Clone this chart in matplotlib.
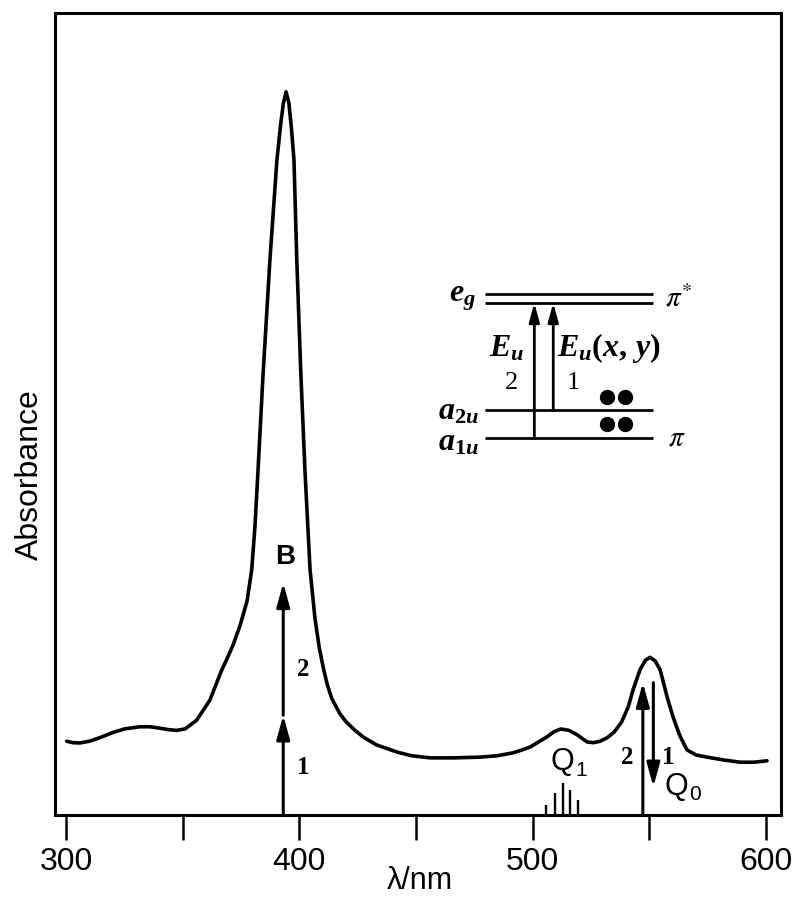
import matplotlib
matplotlib.use("Agg")
import matplotlib.pyplot as plt

plt.rcParams["mathtext.it"] = "Liberation Serif:italic:bold"
plt.rcParams["mathtext.rm"] = "Liberation Serif:bold"
plt.rcParams["mathtext.bf"] = "Liberation Serif:bold"

# ---- data ----
wavelength_nm = [300.3, 303, 306, 310, 314.6, 320, 325, 331.7, 336, 340.3, 344, 347.4, 351, 356,
                 361.7, 364, 366.7, 369, 371.6, 374.6, 377.6, 379.6, 381, 382.3, 384.4, 387.4, 390.4,
                 392.0, 393.1, 394.3, 395.5, 396.6, 397.7, 398.9, 400.7, 402.4, 404.6, 406.7, 408.5,
                 410.3, 412.0, 413.9, 417.4, 420, 423.5, 427.3, 433, 441.9, 448, 456, 466, 477.4, 485,
                 491.6, 495.5, 498.9, 502.5, 506.1, 509, 512.1, 515.5, 519, 523.3, 526, 528.9, 532,
                 535, 538, 541, 543, 546, 548.3, 550.3, 552.5, 554.6, 557.6, 560.1, 563, 566.1, 570,
                 574.7, 582, 588.9, 595, 600.4]
absorbance = [0.102, 0.100, 0.0996, 0.102, 0.107, 0.114, 0.119, 0.122, 0.122, 0.120, 0.118, 0.117,
              0.119, 0.131, 0.159, 0.178, 0.200, 0.216, 0.235, 0.262, 0.296, 0.339, 0.400, 0.477,
              0.606, 0.768, 0.906, 0.955, 0.983, 1.000, 0.985, 0.950, 0.906, 0.768, 0.606, 0.477,
              0.339, 0.272, 0.232, 0.203, 0.180, 0.161, 0.140, 0.129, 0.118, 0.108, 0.097, 0.087,
              0.082, 0.079, 0.079, 0.080, 0.082, 0.086, 0.090, 0.094, 0.101, 0.108, 0.115, 0.119,
              0.117, 0.111, 0.101, 0.100, 0.102, 0.107, 0.115, 0.128, 0.150, 0.173, 0.201, 0.214,
              0.218, 0.213, 0.201, 0.163, 0.136, 0.110, 0.090, 0.083, 0.080, 0.076, 0.073, 0.073,
              0.075]

# Q1 vibronic stick spectrum
q1_sticks_nm = [505.8, 509.4, 513.1, 516.0, 519.6]
q1_sticks_h = [0.014, 0.030, 0.044, 0.035, 0.021]

# transition arrows (wavelength, start, end)
b_band_nm = 393.1
b_arrow_levels = [0.0, 0.138, 0.321]
q0_up_nm, q0_up = 547.2, (0.0, 0.183)
q0_down_nm, q0_down = 551.7, (0.183, 0.039)

x_ticks = [300, 350, 400, 450, 500, 550, 600]
x_ticklabels = ["300", "", "400", "", "500", "", "600"]

# ---- figure ----
fig = plt.figure(figsize=(7.96, 8.98), dpi=100)
ax = fig.add_axes([55/796, 1-815/898, (781-55)/796, (815-13)/898])

ax.plot(wavelength_nm, absorbance, color="black", lw=2.6, solid_capstyle="round", solid_joinstyle="round")
ax.vlines(q1_sticks_nm, 0, q1_sticks_h, color="black", lw=1.7)

ax.set_xlim(295.3, 606.4)
ax.set_ylim(0, 1.109)

for s in ax.spines.values():
    s.set_linewidth(2.2)
ax.set_yticks([])
ax.set_xticks(x_ticks)
ax.set_xticklabels(x_ticklabels, fontsize=23, family="Liberation Sans")
ax.tick_params(axis="x", direction="out", length=18, width=1.8, pad=5)
fig.text(420/796, 1-881/898, "λ/nm", fontsize=22, family="Liberation Sans", ha="center", va="center")
fig.text(30/796, 1-475/898, "Absorbance", rotation=90, fontsize=23, family="Liberation Sans",
         ha="center", va="center")

def arrow(x, y0, y1, lw=2.2, ms=18):
    ax.annotate("", xy=(x, y1), xytext=(x, y0),
                arrowprops=dict(arrowstyle="-|>,head_length=0.8,head_width=0.22", lw=lw,
                                color="black", shrinkA=0, shrinkB=0, mutation_scale=ms))

# B band arrows
arrow(b_band_nm, b_arrow_levels[0], b_arrow_levels[1])
arrow(b_band_nm, b_arrow_levels[1], b_arrow_levels[2])
ax.text(393.9, 0.357, "B", fontsize=20, fontweight="bold", family="Liberation Sans", ha="center", va="center")
ax.text(401.6, 0.201, "2", fontsize=18, family="Liberation Serif", fontweight="bold", ha="center", va="center")
ax.text(401.6, 0.065, "1", fontsize=18, family="Liberation Serif", fontweight="bold", ha="center", va="center")

# Q bands
arrow(q0_up_nm, *q0_up)
arrow(q0_down_nm, *q0_down)
ax.text(512.6, 0.073, "Q", fontsize=22, family="Liberation Sans", ha="center", va="center")
ax.text(520.6, 0.061, "1", fontsize=15, family="Liberation Sans", ha="center", va="center")
ax.text(540.4, 0.080, "2", fontsize=18, family="Liberation Serif", fontweight="bold", ha="center", va="center")
ax.text(558.0, 0.080, "1", fontsize=18, family="Liberation Serif", fontweight="bold", ha="center", va="center")
ax.text(561.4, 0.039, "Q", fontsize=22, family="Liberation Sans", ha="center", va="center")
ax.text(569.6, 0.028, "0", fontsize=15, family="Liberation Sans", ha="center", va="center")

# ---- inset energy-level diagram ----
lvl_x0, lvl_x1 = 479.6, 551.4
ax.hlines([0.721, 0.708, 0.560, 0.522], lvl_x0, lvl_x1, color="black", lw=2.0)
arrow(500.7, 0.522, 0.708, lw=2.0, ms=14)
arrow(508.8, 0.560, 0.708, lw=2.0, ms=14)
ax.plot([531.9, 539.6, 531.9, 539.6], [0.578, 0.578, 0.541, 0.541], "o", color="black", ms=10)
mf = "custom"
ax.text(475.5, 0.716, r"$e_g$", fontsize=23, math_fontfamily=mf, ha="right", va="center")
ax.text(556.5, 0.714, r"$\pi^{*}$", fontsize=21, math_fontfamily="stix", ha="left", va="center")
ax.text(489.0, 0.646, r"$E_u$", fontsize=23, math_fontfamily=mf, ha="center", va="center")
ax.text(510.5, 0.646, r"$E_u(x,\,y)$", fontsize=23, math_fontfamily=mf, ha="left", va="center")
ax.text(491.1, 0.598, "2", fontsize=19, family="Liberation Serif", ha="center", va="center")
ax.text(517.3, 0.598, "1", fontsize=19, family="Liberation Serif", ha="center", va="center")
ax.text(477.0, 0.558, r"$a_{2u}$", fontsize=23, math_fontfamily=mf, ha="right", va="center")
ax.text(477.0, 0.516, r"$a_{1u}$", fontsize=23, math_fontfamily=mf, ha="right", va="center")
ax.text(558.0, 0.522, r"$\pi$", fontsize=21, math_fontfamily="stix", ha="left", va="center")

fig.savefig("out.png", dpi=100, facecolor="white")
